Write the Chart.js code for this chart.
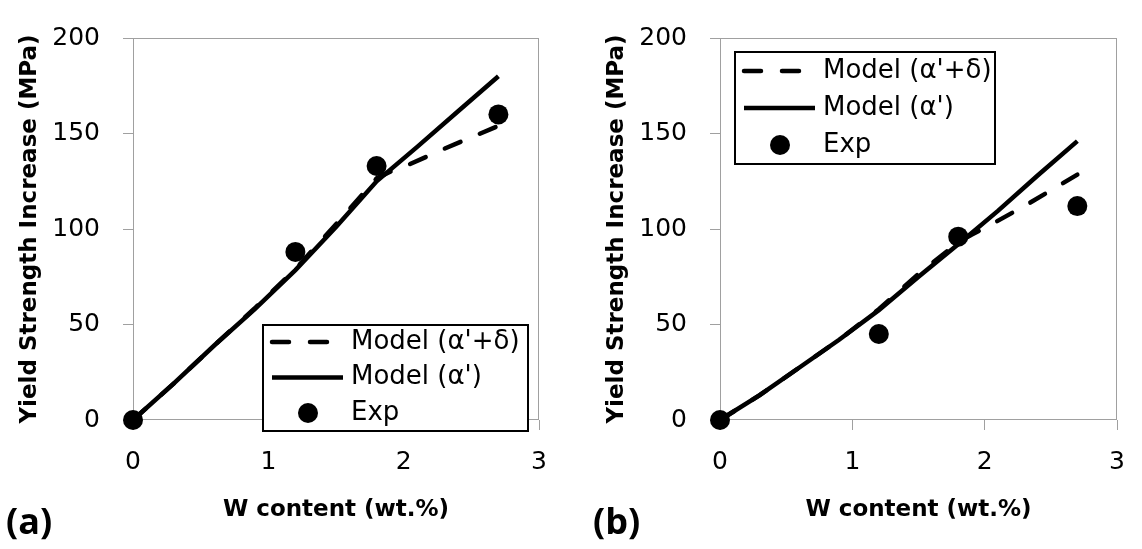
<!DOCTYPE html>
<html>
<head>
<meta charset="utf-8">
<script src="https://cdn.jsdelivr.net/npm/chart.js@4.4.1/dist/chart.umd.min.js"></script>
<style>
  html, body { margin: 0; padding: 0; background: #fff; }
  #wrap { position: relative; width: 1142px; height: 549px; overflow: hidden; }
  .panel { position: absolute; top: 0; height: 549px; }
  #boxA { left: 0; width: 587px; }
  #boxB { left: 587px; width: 555px; }
  .tag { position: absolute; top: 500px; font: bold 36px "Open Sans"; line-height: 42px; color: #000; }
</style>
</head>
<body>
<div id="wrap">
  <div class="panel" id="boxA"><canvas id="chartA"></canvas></div>
  <div class="panel" id="boxB"><canvas id="chartB"></canvas></div>
  <div class="tag" style="left:6px">(a)</div>
  <div class="tag" style="left:593px">(b)</div>
</div>
<script>
// ---- data ----
const seriesNames = ["Model (\u03b1'+\u03b4)", "Model (\u03b1')", "Exp"];
const xTicks = [0, 1, 2, 3];
const yTicks = [0, 50, 100, 150, 200];

// panel (a)
const aDeltaX = [0, 0.3, 0.6, 0.9, 1.2, 1.5, 1.8, 1.9, 2.0, 2.3, 2.7];
const aDeltaY = [0, 19, 39, 58.5, 79, 102.5, 126.5, 130, 132.5, 142, 154];
const aAlphaX = [0, 0.3, 0.6, 0.9, 1.2, 1.5, 1.8, 2.1, 2.4, 2.7];
const aAlphaY = [0, 19, 39, 58, 78.5, 101, 125, 143, 161.5, 180];
const aExpX = [0, 1.2, 1.8, 2.7];
const aExpY = [0, 88, 133, 160];

// panel (b)
const bDeltaX = [0, 0.3, 0.6, 0.9, 1.2, 1.5, 1.8, 1.9, 2.0, 2.3, 2.7];
const bDeltaY = [0, 13, 27.5, 42, 58, 76.5, 93, 97, 100.5, 112, 128.5];
const bAlphaX = [0, 0.3, 0.6, 0.9, 1.2, 1.5, 1.8, 2.1, 2.4, 2.7];
const bAlphaY = [0, 13, 27.5, 42, 57.5, 75, 92, 109.5, 128, 146];
const bExpX = [0, 1.2, 1.8, 2.7];
const bExpY = [0, 45, 96, 112];

const AXIS_GRAY = '#a0a0a0';
const FONT = 'DejaVu Sans';

function pts(xs, ys) {
  return xs.map((x, i) => ({ x: x, y: ys[i] }));
}

// grey frame round the plot area
const frame = {
  id: 'frame',
  beforeDatasetsDraw(chart) {
    const { ctx, chartArea: a } = chart;
    const l = Math.round(a.left) + 0.5, t = Math.round(a.top) + 0.5;
    const r = Math.round(a.right) - 0.5, b = Math.round(a.bottom) - 0.5;
    ctx.save();
    ctx.strokeStyle = AXIS_GRAY;
    ctx.lineWidth = 1;
    ctx.strokeRect(l, t, r - l, b - t);
    ctx.restore();
  }
};

// boxed legend inside the plot area
const boxLegend = {
  id: 'boxLegend',
  afterDraw(chart, args, o) {
    const { ctx, chartArea: a } = chart;
    const x0 = a.left + o.left, y0 = a.top + o.top;
    ctx.save();
    ctx.fillStyle = '#fff';
    ctx.fillRect(x0, y0, o.width, o.height);
    ctx.strokeStyle = '#000';
    ctx.lineWidth = 2;
    ctx.strokeRect(x0, y0, o.width, o.height);
    chart.data.datasets.forEach((ds, i) => {
      const cy = y0 + o.firstRow + i * o.rowGap;
      ctx.fillStyle = '#000';
      ctx.strokeStyle = '#000';
      if (ds.showLine === false) {
        ctx.beginPath();
        ctx.arc(x0 + 45, cy, ds.pointRadius, 0, Math.PI * 2);
        ctx.fill();
      } else {
        ctx.lineWidth = ds.borderWidth;
        ctx.lineCap = ds.borderCapStyle || 'butt';
        ctx.setLineDash(ds.borderDash || []);
        ctx.beginPath();
        ctx.moveTo(x0 + 9, cy);
        ctx.lineTo(x0 + 80, cy);
        ctx.stroke();
        ctx.setLineDash([]);
      }
      ctx.font = '26px "' + FONT + '"';
      ctx.textBaseline = 'middle';
      ctx.textAlign = 'left';
      ctx.fillText(ds.label, x0 + 88, cy);
    });
    ctx.restore();
  }
};

function makePanel(id, delta, alpha, exp, padRight, legendBox) {
  const tickFont = { family: FONT, size: 25 };
  const titleFont = { family: FONT, size: 23, weight: 'bold' };
  return new Chart(document.getElementById(id), {
    type: 'line',
    data: {
      datasets: [
        { label: seriesNames[0], data: delta, borderColor: '#000', borderWidth: 4.5,
          borderDash: [17, 21], borderCapStyle: 'round', pointRadius: 0, tension: 0, clip: false },
        { label: seriesNames[1], data: alpha, borderColor: '#000', borderWidth: 4.5,
          pointRadius: 0, tension: 0, clip: false },
        { label: seriesNames[2], data: exp, showLine: false, pointRadius: 10,
          pointBackgroundColor: '#000', pointBorderColor: '#000', pointBorderWidth: 0, clip: false }
      ]
    },
    options: {
      responsive: true,
      maintainAspectRatio: false,
      animation: false,
      layout: { padding: { top: 20, left: 0, right: padRight, bottom: 0 } },
      plugins: {
        legend: { display: false },
        tooltip: { enabled: false },
        boxLegend: legendBox
      },
      scales: {
        x: {
          type: 'linear', min: 0, max: 3,
          afterBuildTicks: s => { s.ticks = xTicks.map(v => ({ value: v })); },
          afterFit: s => { s.height = 129; },
          ticks: { color: '#000', font: tickFont, padding: 17, maxRotation: 0 },
          grid: { drawOnChartArea: false, drawTicks: true, tickLength: 10, color: AXIS_GRAY },
          border: { display: false },
          title: { display: true, text: 'W content (wt.%)', color: '#000', font: titleFont,
                   padding: { top: 0, bottom: 25 } }
        },
        y: {
          type: 'linear', min: 0, max: 200,
          afterBuildTicks: s => { s.ticks = yTicks.map(v => ({ value: v })); },
          afterFit: s => { s.width = 133; },
          ticks: { color: '#000', font: tickFont, padding: 23 },
          grid: { drawOnChartArea: false, drawTicks: true, tickLength: 10, color: AXIS_GRAY },
          border: { display: false },
          title: { display: true, text: 'Yield Strength Increase (MPa)', color: '#000', font: titleFont,
                   padding: { top: 16, bottom: 0 } }
        }
      }
    },
    plugins: [frame, boxLegend]
  });
}

makePanel('chartA', pts(aDeltaX, aDeltaY), pts(aAlphaX, aAlphaY), pts(aExpX, aExpY), 48,
  { left: 130, top: 287, width: 265, height: 106, firstRow: 17, rowGap: 35.5 });
makePanel('chartB', pts(bDeltaX, bDeltaY), pts(bAlphaX, bAlphaY), pts(bExpX, bExpY), 15,
  { left: 15, top: 14, width: 260, height: 112, firstRow: 19, rowGap: 37 });
</script>
</body>
</html>
